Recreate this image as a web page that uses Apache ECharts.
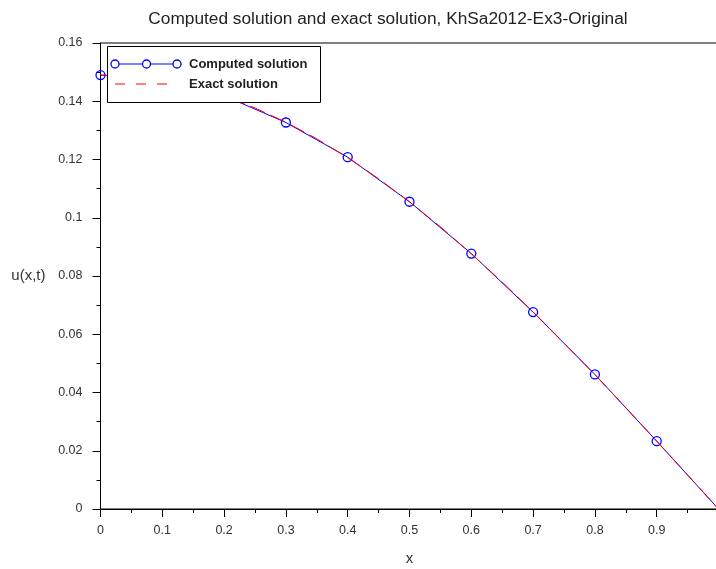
<!DOCTYPE html>
<html><head><meta charset="utf-8">
<script src="https://cdn.jsdelivr.net/npm/echarts@6/dist/echarts.min.js"></script>
<style>html,body{margin:0;padding:0;background:#fff}#c{width:716px;height:569px}</style>
</head><body><div id="c"></div>
<script>
var computedX = [0, 0.1, 0.2, 0.3, 0.4, 0.5, 0.6, 0.7, 0.8, 0.9, 1.0];
var computedY = [0.149, 0.1475, 0.1419, 0.1327, 0.1208, 0.1055, 0.0877, 0.0676, 0.0462, 0.0233, 0];
var exactX = [0, 0.05, 0.1, 0.15, 0.2, 0.25, 0.3, 0.35, 0.4, 0.45, 0.5, 0.55, 0.6, 0.65, 0.7, 0.75, 0.8, 0.85, 0.9, 0.95, 1.0];
var exactY = [0.149, 0.1485, 0.1472, 0.1449, 0.1417, 0.1377, 0.1328, 0.1271, 0.1206, 0.1134, 0.1054, 0.0969, 0.0876, 0.0779, 0.0677, 0.0570, 0.0461, 0.0348, 0.0233, 0.0117, 0];
var titleText = 'Computed solution and exact solution, KhSa2012-Ex3-Original';
var seriesNames = ['Computed solution', 'Exact solution'];
var xAxisName = 'x';
var yAxisName = 'u(x,t)';

function pairs(xs, ys){ return xs.map(function(x,i){return [x, ys[i]];}); }
var computedData = pairs(computedX, computedY).map(function(p, i, arr){
  return i === arr.length - 1 ? { value: p, symbol: 'none' } : p;
});
var FONT = "'Liberation Sans', Arial, sans-serif";
var chart = echarts.init(document.getElementById('c'));
var Z = 100;
chart.setOption({
  animation: false,
  backgroundColor: '#fff',
  title: { text: titleText, left: 383, top: 6, textAlign: 'center',
    textStyle: { fontFamily: FONT, fontSize: 17.3, fontWeight: 'normal', color: '#222' } },
  grid: { left: 100.5, top: 43, right: -2.5, bottom: 60, show: true, borderColor: '#000', borderWidth: 1,
    backgroundColor: 'transparent', containLabel: false, outerBoundsMode: 'none' },
  xAxis: {
    type: 'value', min: 0, max: 1, interval: 0.1,
    name: xAxisName, nameLocation: 'middle', nameGap: 42,
    nameTextStyle: { fontFamily: FONT, fontSize: 15, color: '#333' },
    axisLine: { onZero: false, lineStyle: { color: '#000', width: 1 } },
    axisTick: { show: true, length: 8, lineStyle: { color: '#000' } },
    minorTick: { show: true, splitNumber: 2, length: 4, lineStyle: { color: '#000' } },
    splitLine: { show: false },
    axisLabel: { fontFamily: FONT, fontSize: 12.5, color: '#333', margin: 15, showMaxLabel: false }
  },
  yAxis: {
    type: 'value', min: 0, max: 0.16, interval: 0.02,
    name: yAxisName, nameLocation: 'middle', nameGap: 55, nameRotate: 0,
    nameTextStyle: { fontFamily: FONT, fontSize: 15, color: '#333' },
    axisLine: { onZero: false, lineStyle: { color: '#000', width: 1 } },
    axisTick: { show: true, length: 8, lineStyle: { color: '#000' } },
    minorTick: { show: true, splitNumber: 2, length: 4, lineStyle: { color: '#000' } },
    splitLine: { show: false },
    axisLabel: { fontFamily: FONT, fontSize: 12.5, color: '#333', margin: 18 }
  },
  series: [
    { name: seriesNames[0], type: 'line', data: computedData,
      symbol: 'circle', symbolSize: 9, showAllSymbol: true,
      lineStyle: { color: '#0000ff', width: 1 },
      itemStyle: { color: 'rgba(255,255,255,0)', borderColor: '#0000ff', borderWidth: 1.3 },
      z: 2 },
    { name: seriesNames[1], type: 'line', data: pairs(exactX, exactY),
      symbol: 'none', smooth: false,
      lineStyle: { color: '#ff0000', width: 1, type: [16, 6] },
      z: 3 }
  ],
  graphic: [
    { type: 'rect', z: Z, left: 107, top: 46, shape: { x: 0, y: 0, width: 213, height: 56 },
      style: { fill: '#fff', stroke: '#000', lineWidth: 1 } },
    { type: 'line', z: Z + 1, shape: { x1: 115, y1: 64, x2: 177, y2: 64 }, style: { stroke: '#0000ff', lineWidth: 1 } },
    { type: 'circle', z: Z + 2, shape: { cx: 115, cy: 64, r: 4 }, style: { fill: '#fff', stroke: '#0000ff', lineWidth: 1.3 } },
    { type: 'circle', z: Z + 2, shape: { cx: 146.5, cy: 64, r: 4 }, style: { fill: '#fff', stroke: '#0000ff', lineWidth: 1.3 } },
    { type: 'circle', z: Z + 2, shape: { cx: 177, cy: 64, r: 4 }, style: { fill: '#fff', stroke: '#0000ff', lineWidth: 1.3 } },
    { type: 'line', z: Z + 1, shape: { x1: 115, y1: 84, x2: 175, y2: 84 }, style: { stroke: '#ff0000', lineWidth: 1, lineDash: [10, 11] } },
    { type: 'text', z: Z + 2, x: 189, y: 64, style: { text: seriesNames[0], fill: '#222', font: 'bold 13px ' + FONT, verticalAlign: 'middle', textVerticalAlign: 'middle' } },
    { type: 'text', z: Z + 2, x: 189, y: 84, style: { text: seriesNames[1], fill: '#222', font: 'bold 13px ' + FONT, verticalAlign: 'middle', textVerticalAlign: 'middle' } }
  ]
});
</script>
</body></html>
